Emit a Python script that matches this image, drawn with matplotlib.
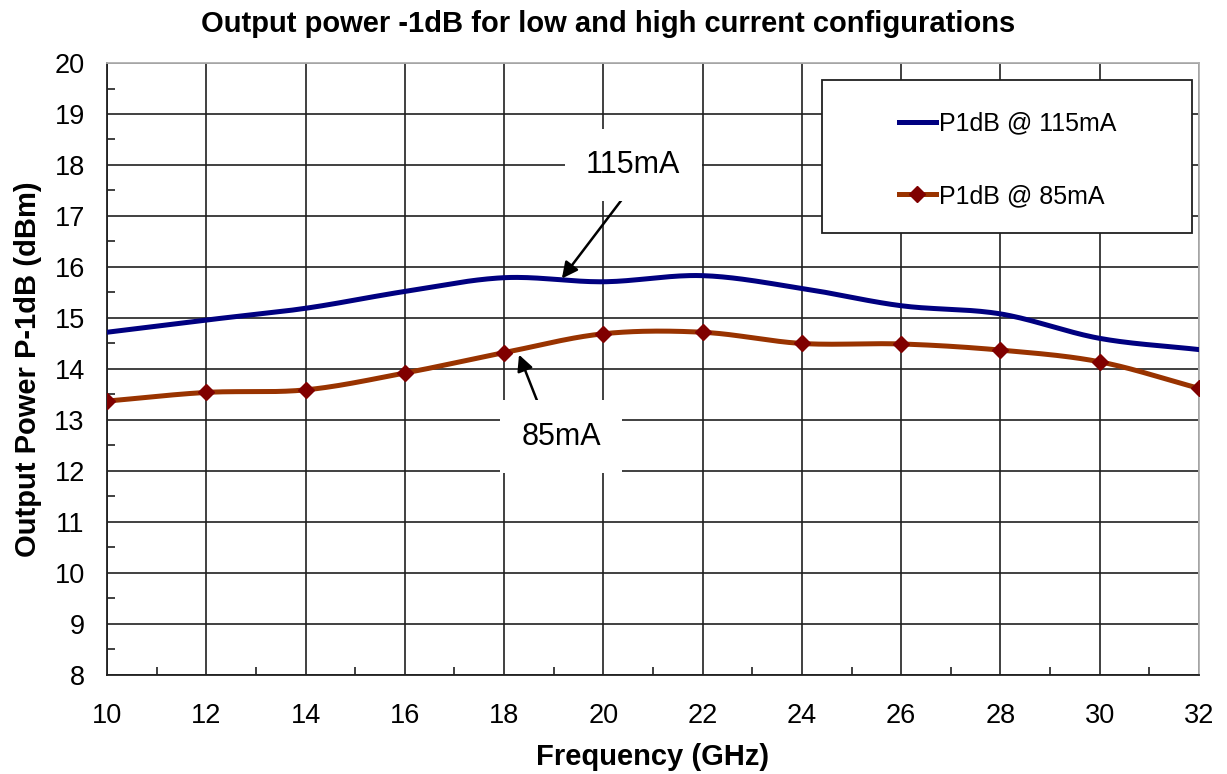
import numpy as np
import matplotlib
matplotlib.use("Agg")
import matplotlib.pyplot as plt
from matplotlib.patches import Rectangle
from matplotlib.lines import Line2D
from matplotlib.ticker import MultipleLocator

plt.rcParams['font.family'] = ['Liberation Sans', 'DejaVu Sans']

freq = [10, 12, 14, 16, 18, 20, 22, 24, 26, 28, 30, 32]
p1db_115 = [14.72, 14.96, 15.19, 15.52, 15.79, 15.71, 15.83, 15.58, 15.24, 15.08, 14.60, 14.38]
p1db_85 = [13.37, 13.54, 13.59, 13.92, 14.32, 14.69, 14.72, 14.50, 14.49, 14.37, 14.14, 13.62]
x_ticks = list(range(10, 33, 2))
y_ticks = list(range(8, 21))


def smooth(x, y, n=30):
    # Catmull-Rom style smoothing (like Excel smoothed lines)
    x = np.asarray(x, float)
    y = np.asarray(y, float)
    px = np.concatenate([[2 * x[0] - x[1]], x, [2 * x[-1] - x[-2]]])
    py = np.concatenate([[2 * y[0] - y[1]], y, [2 * y[-1] - y[-2]]])
    xs, ys = [], []
    t = np.linspace(0, 1, n, endpoint=False)
    for i in range(1, len(px) - 2):
        p0, p1, p2, p3 = px[i - 1], px[i], px[i + 1], px[i + 2]
        q0, q1, q2, q3 = py[i - 1], py[i], py[i + 1], py[i + 2]
        for arr, a0, a1, a2, a3 in ((xs, p0, p1, p2, p3), (ys, q0, q1, q2, q3)):
            arr.extend(0.5 * ((2 * a1) + (-a0 + a2) * t + (2 * a0 - 5 * a1 + 4 * a2 - a3) * t ** 2
                              + (-a0 + 3 * a1 - 3 * a2 + a3) * t ** 3))
    xs.append(x[-1])
    ys.append(y[-1])
    return np.array(xs), np.array(ys)


fig = plt.figure(figsize=(12.27, 7.74), dpi=100)
ax = fig.add_axes([0.0872, 0.128, 0.890, 0.7906])

blue = '#000080'
brown = '#993300'
mark = '#800000'

sx, sy = smooth(freq, p1db_115)
ax.plot(sx, sy, color=blue, lw=3.6, solid_capstyle='round', zorder=3)
sx2, sy2 = smooth(freq, p1db_85)
ax.plot(sx2, sy2, color=brown, lw=3.6, solid_capstyle='round', zorder=3)
ax.plot(freq, p1db_85, ls='none', marker='D', ms=8.5, color=mark, zorder=4)

ax.set_xlim(10, 32)
ax.set_ylim(8, 20)
ax.set_xticks(x_ticks)
ax.set_yticks(y_ticks)
ax.xaxis.set_minor_locator(MultipleLocator(1))
ax.yaxis.set_minor_locator(MultipleLocator(0.5))
ax.tick_params(which='major', length=0, labelsize=19.5)
ax.tick_params(axis='x', which='major', pad=20)
ax.tick_params(axis='y', which='major', pad=16)
ax.tick_params(which='minor', direction='in', length=6, width=1.2, color='#202020')
ax.grid(True, which='major', color='#202020', lw=1.2)
for s in ax.spines.values():
    s.set_color('#202020')
    s.set_linewidth(1.3)
ax.spines['right'].set_color('#b0b0b0')
ax.spines['top'].set_color('#b0b0b0')

fig.text(0.4955, 0.969, 'Output power -1dB for low and high current configurations',
         fontsize=21, fontweight='bold', ha='center', va='center')
ax.set_xlabel('Frequency (GHz)', fontsize=21, fontweight='bold', labelpad=10)
ax.set_ylabel('Output Power P-1dB (dBm)', fontsize=21, fontweight='bold', labelpad=9)

# Legend box
rect = Rectangle((0.655, 0.722), 0.339, 0.250, transform=ax.transAxes,
                 facecolor='white', edgecolor='#202020', lw=1.3, zorder=5)
ax.add_patch(rect)
handles = [Line2D([], [], color=blue, lw=3.6),
           Line2D([], [], color=brown, lw=3.6, marker='D', ms=8, mfc=mark, mec=mark)]
leg = ax.legend(handles, ['P1dB @ 115mA', 'P1dB @ 85mA'], loc='center',
                bbox_to_anchor=(0.655 + 0.339 / 2, 0.722 + 0.12), frameon=False,
                fontsize=18, handlelength=1.5, handletextpad=0.1, labelspacing=1.95)
leg.set_zorder(6)

# Annotations
bbox = dict(boxstyle='square,pad=0.7', facecolor='white', edgecolor='none')
ax.annotate('', xy=(19.13, 15.73), xytext=(20.41, 17.37),
            arrowprops=dict(arrowstyle='-|>', color='black', lw=1.8, mutation_scale=24), zorder=6)
ax.text(20.6, 18.0, '115mA', fontsize=22, ha='center', va='center', bbox=bbox, zorder=7)
ax.annotate('', xy=(18.28, 14.33), xytext=(18.72, 13.24),
            arrowprops=dict(arrowstyle='-|>', color='black', lw=1.8, mutation_scale=24), zorder=6)
ax.text(19.15, 12.67, '85mA', fontsize=22, ha='center', va='center', bbox=bbox, zorder=7)

fig.savefig('out.png', dpi=100)
